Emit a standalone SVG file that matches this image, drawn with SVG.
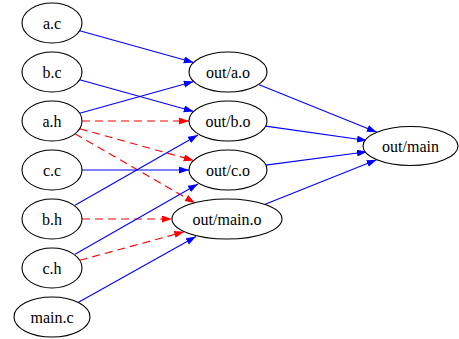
<svg xmlns="http://www.w3.org/2000/svg" width="459" height="339" viewBox="0 0 459 339">
  <style>
    .node ellipse { fill: #ffffff; stroke: #000000; stroke-width: 1.1; }
    .node text { font-family: 'Liberation Serif', 'Times New Roman', serif; font-size: 16px; fill: #000000; text-anchor: middle; }
    .dep { fill: none; stroke: #0000ff; stroke-width: 1.1; marker-end: url(#arrow-blue); }
    .hdr { fill: none; stroke: #ff0000; stroke-width: 1.1; stroke-dasharray: 8,5; marker-end: url(#arrow-red); }
  </style>
  <defs>
    <marker id="arrow-blue" markerUnits="userSpaceOnUse" markerWidth="11" markerHeight="8" refX="10" refY="3.5" orient="auto">
      <path d="M0,0 L10,3.5 L0,7 z" fill="#0000ff"/>
    </marker>
    <marker id="arrow-red" markerUnits="userSpaceOnUse" markerWidth="11" markerHeight="8" refX="10" refY="3.5" orient="auto">
      <path d="M0,0 L10,3.5 L0,7 z" fill="#ff0000"/>
    </marker>
  </defs>
  <rect width="459" height="339" fill="#ffffff"/>

  <!-- build dependency edges: blue = compile/link input, red dashed = header include -->
  <g id="edges">
    <path class="dep" d="M79.7,30.7 L193.7,62.5"/>
    <path class="dep" d="M79.7,79.7 L193.7,111.5"/>
    <path class="dep" d="M79.7,113.3 L193.7,81.5"/>
    <path class="hdr" d="M82,121 L189,121"/>
    <path class="hdr" d="M79.7,128.7 L193.7,160.5"/>
    <path class="hdr" d="M75,133.8 L195,203"/>
    <path class="dep" d="M82,170 L189,170"/>
    <path class="dep" d="M75,205.2 L198,135"/>
    <path class="hdr" d="M82,219 L172,219"/>
    <path class="dep" d="M75,254.2 L198,184"/>
    <path class="hdr" d="M79.7,260.3 L184.3,231.8"/>
    <path class="dep" d="M78.1,302.5 L196,236.5"/>
    <path class="dep" d="M258.6,84.4 L376.9,132.2"/>
    <path class="dep" d="M265.7,126.1 L367,140.5"/>
    <path class="dep" d="M265.7,165.1 L367,151.8"/>
    <path class="dep" d="M265.1,204.2 L376.7,159.7"/>
  </g>

  <!-- source files -->
  <g id="a.c" class="node"><ellipse cx="52" cy="23" rx="30" ry="20"/><text x="52" y="28.5">a.c</text></g>
  <g id="b.c" class="node"><ellipse cx="52" cy="72" rx="30" ry="20"/><text x="52" y="77.5">b.c</text></g>
  <g id="a.h" class="node"><ellipse cx="52" cy="121" rx="30" ry="20"/><text x="52" y="126.5">a.h</text></g>
  <g id="c.c" class="node"><ellipse cx="52" cy="170" rx="30" ry="20"/><text x="52" y="175.5">c.c</text></g>
  <g id="b.h" class="node"><ellipse cx="52" cy="219" rx="30" ry="20"/><text x="52" y="224.5">b.h</text></g>
  <g id="c.h" class="node"><ellipse cx="52" cy="268" rx="30" ry="20"/><text x="52" y="273.5">c.h</text></g>
  <g id="main.c" class="node"><ellipse cx="52" cy="317" rx="38" ry="20"/><text x="52" y="322.5">main.c</text></g>

  <!-- object files -->
  <g id="out-a.o" class="node"><ellipse cx="228" cy="72" rx="39" ry="20"/><text x="228" y="77.5">out/a.o</text></g>
  <g id="out-b.o" class="node"><ellipse cx="228" cy="121" rx="39" ry="20"/><text x="228" y="126.5">out/b.o</text></g>
  <g id="out-c.o" class="node"><ellipse cx="228" cy="170" rx="39" ry="20"/><text x="228" y="175.5">out/c.o</text></g>
  <g id="out-main.o" class="node"><ellipse cx="227" cy="219" rx="55" ry="20"/><text x="227" y="224.5">out/main.o</text></g>

  <!-- final binary -->
  <g id="out-main" class="node"><ellipse cx="410.5" cy="146" rx="47.5" ry="19.5"/><text x="410.5" y="151.5">out/main</text></g>
</svg>
